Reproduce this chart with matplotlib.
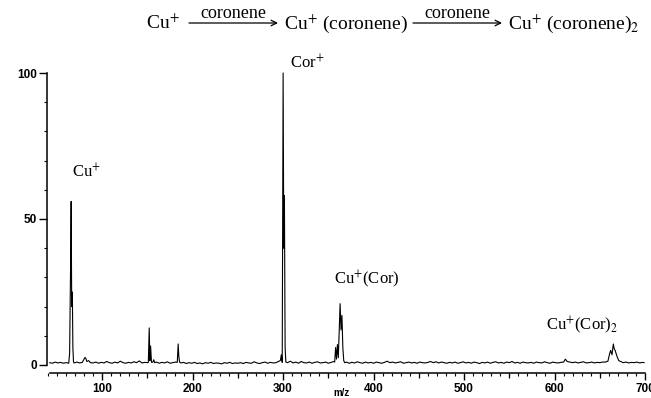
import numpy as np
import matplotlib
matplotlib.use('Agg')
import matplotlib.pyplot as plt
from matplotlib.ticker import MultipleLocator

## spectrum: m/z and relative intensity
mz = [42, 45, 48, 51, 54, 57, 60, 62, 63, 64, 65, 65.7, 66.3, 67, 67.6, 68.3, 69,
      72, 75, 78, 80, 81, 82, 83, 85, 87, 90, 93, 96, 99, 102, 105, 108, 111,
      114, 117, 120, 123, 126, 129, 132, 135, 138, 141, 144, 147, 150,
      151, 152, 152.7, 153.5, 154.5, 156, 157, 158, 160, 163, 166, 169, 172,
      175, 178, 181, 183, 184, 184.7, 185.5, 187, 190, 193, 196, 199, 202,
      205, 208, 211, 214, 217, 220, 223, 226, 229, 232, 235, 238, 241, 244,
      247, 250, 253, 256, 259, 262, 265, 268, 271, 274, 277, 280, 283, 286,
      289, 292, 295, 297, 298, 299, 300, 300.7, 301.4, 302.2, 303, 305, 308,
      311, 314, 317, 320, 323, 326, 329, 332, 335, 338, 341, 344, 347, 350,
      353, 356, 357, 358, 359, 360, 361, 362, 363, 364, 365, 366, 367, 368,
      370, 373, 376, 379, 382, 385, 388, 391, 394, 397, 400, 403, 406, 409,
      412, 415, 418, 421, 424, 427, 430, 433, 436, 439, 442, 445, 448, 451,
      454, 457, 460, 463, 466, 469, 472, 475, 478, 481, 484, 487, 490, 493,
      496, 499, 502, 505, 508, 511, 514, 517, 520, 523, 526, 529, 532, 535,
      538, 541, 544, 547, 550, 553, 556, 559, 562, 565, 568, 571, 574, 577,
      580, 583, 586, 589, 592, 595, 598, 601, 604, 607, 610, 612, 614, 617,
      620, 623, 626, 629, 632, 635, 638, 641, 644, 647, 650, 653, 656, 659,
      661, 662, 663.5, 665, 666, 667, 669, 671, 673, 676, 679, 682, 685, 688,
      691, 694, 697, 699]
intensity = [0.8, 0.6, 1.0, 0.7, 0.9, 0.6, 0.8, 0.7, 0.6, 4.0, 32, 56, 20, 25, 6, 1.0, 0.7,
             1.0, 0.7, 0.9, 2.0, 2.6, 2.2, 1.2, 1.5, 0.8, 0.7, 1.0, 0.6, 0.9, 0.7, 1.2, 0.8, 0.6,
             1.0, 0.7, 1.3, 0.8, 0.6, 0.9, 0.7, 1.1, 0.8, 1.4, 0.7, 0.9, 0.8,
             0.9, 12.7, 1.5, 6.5, 0.9, 1.0, 1.8, 0.8, 1.0, 0.6, 0.9, 0.7, 1.1,
             0.6, 0.8, 1.0, 0.9, 7.2, 3.0, 1.0, 0.7, 0.9, 0.5, 0.8, 0.6, 0.9,
             0.5, 0.7, 0.4, 0.8, 0.6, 0.9, 0.5, 0.7, 0.6, 0.4, 0.8, 0.6, 0.9, 0.5,
             0.7, 0.6, 0.8, 0.5, 0.9, 0.7, 0.6, 1.1, 0.7, 0.5, 0.8, 1.0, 0.6, 0.9,
             0.7, 0.8, 1.2, 1.6, 3.5, 0.9, 100, 40, 58, 6, 1.0, 0.8, 1.3,
             0.7, 1.0, 0.6, 1.2, 0.8, 0.7, 1.0, 0.6, 0.9, 1.1, 0.7, 0.8, 1.0, 0.6,
             0.9, 1.2, 1.0, 6.0, 2.0, 7.0, 2.5, 12, 21, 12, 17, 6, 1.5, 0.8,
             1.0, 0.6, 0.9, 0.7, 1.1, 0.8, 0.6, 1.0, 0.7, 0.9, 0.6, 1.0, 0.8, 0.6,
             0.9, 1.3, 0.8, 1.0, 0.7, 0.9, 1.1, 0.6, 0.8, 1.0, 0.7, 0.9, 0.6, 1.0,
             0.8, 0.7, 0.9, 1.2, 0.8, 1.1, 0.7, 1.0, 0.8, 0.6, 0.9, 0.7, 1.0, 0.6,
             0.8, 1.1, 0.7, 0.9, 0.6, 1.0, 0.8, 0.5, 0.9, 0.7, 1.0, 0.6, 0.9, 1.1,
             0.7, 0.9, 0.6, 1.0, 0.8, 1.2, 0.7, 0.9, 0.6, 1.0, 0.8, 0.7, 0.9, 0.6,
             1.0, 0.8, 0.7, 1.1, 0.8, 0.6, 1.0, 0.8, 0.7, 0.9, 1.0, 2.0, 1.2, 1.0,
             0.8, 1.0, 0.7, 0.9, 1.1, 0.7, 0.8, 1.0, 0.7, 0.9, 0.8, 1.0, 1.0, 1.3,
             4.0, 5.0, 3.5, 7.2, 5.5, 5.0, 3.0, 1.5, 1.2, 0.8, 1.0, 0.7, 0.9, 0.8,
             1.0, 0.7, 0.9, 0.8]

## peak labels: (text, m/z, intensity at the text centre)
peak_labels = [('Cu$^{+}$', 83, 66),
               ('Cor$^{+}$', 327, 103.5),
               ('Cu$^{+}$(Cor)', 393, 29.5),
               ('Cu$^{+}$(Cor)$_2$', 630, 13.5)]

W, H = 651, 398
plt.rcParams['mathtext.fontset'] = 'stix'
fig = plt.figure(figsize=(W/100, H/100), dpi=100)
fig.patch.set_facecolor('white')

# axes placed in pixel units of the original picture
x0, x1 = 47, 645
ytop, ybot = 73, 373
ax = fig.add_axes([x0/W, (H-ybot)/H, (x1-x0)/W, (ybot-ytop)/H])
ax.plot(mz, intensity, color='black', lw=0.8, clip_on=False)
ax.set_xlim(39, 700)
ax.set_ylim(-2.74, 100)

for s in ['top', 'right']:
    ax.spines[s].set_visible(False)
ax.spines['left'].set_bounds(0, 100)
ax.spines['bottom'].set_bounds(42, 700)
for s in ['left', 'bottom']:
    ax.spines[s].set_linewidth(1.1)

ax.set_yticks([0, 50, 100])
ax.yaxis.set_minor_locator(MultipleLocator(10))
ax.set_xticks(np.arange(100, 701, 100))
ax.xaxis.set_minor_locator(MultipleLocator(10))
ax.tick_params(axis='y', which='major', length=6, width=1, pad=1)
ax.tick_params(axis='y', which='minor', length=2.2, width=0.8)
ax.tick_params(axis='x', which='major', length=5, width=1, pad=2)
ax.tick_params(axis='x', which='minor', length=2.5, width=0.8)
for lab in ax.get_xticklabels() + ax.get_yticklabels():
    lab.set_fontfamily('Liberation Sans')
    lab.set_fontweight('bold')
    lab.set_fontsize(8.5)

# medium ticks at the fifties
sec = ax.secondary_xaxis('bottom')
sec.set_xticks(np.arange(150, 701, 100))
sec.set_xticklabels([])
sec.tick_params(length=3.8, width=0.9)
sec.spines['bottom'].set_visible(False)

fig.text(341/W, (H-393)/H, 'm/z', ha='center', va='center',
         family='Liberation Sans', fontweight='bold', fontsize=7)

for txt, xm, yi in peak_labels:
    ax.text(xm, yi, txt, ha='center', va='center', family='Liberation Serif',
            fontsize=12, clip_on=False)

# reaction scheme at the top
def fy(y):
    return (H - y)/H

tk = dict(family='Liberation Serif', fontsize=14, va='baseline')
fig.text(146/W, fy(29), 'Cu$^{+}$', ha='left', **tk)
fig.text(284/W, fy(29), 'Cu$^{+}$ (coronene)', ha='left', **tk)
fig.text(508/W, fy(29), 'Cu$^{+}$ (coronene)$_2$', ha='left', **tk)
for xa, xb in [(189, 278), (413, 502)]:
    ax.annotate('', xy=(xb/W, fy(23)), xytext=(xa/W, fy(23)),
                xycoords='figure fraction', textcoords='figure fraction',
                arrowprops=dict(arrowstyle='->', lw=0.9, color='black',
                                shrinkA=0, shrinkB=0))
    fig.text((xa+xb)/2/W, fy(13), 'coronene', ha='center', va='center',
             family='Liberation Serif', fontsize=13)

fig.savefig('out.png', dpi=100)
